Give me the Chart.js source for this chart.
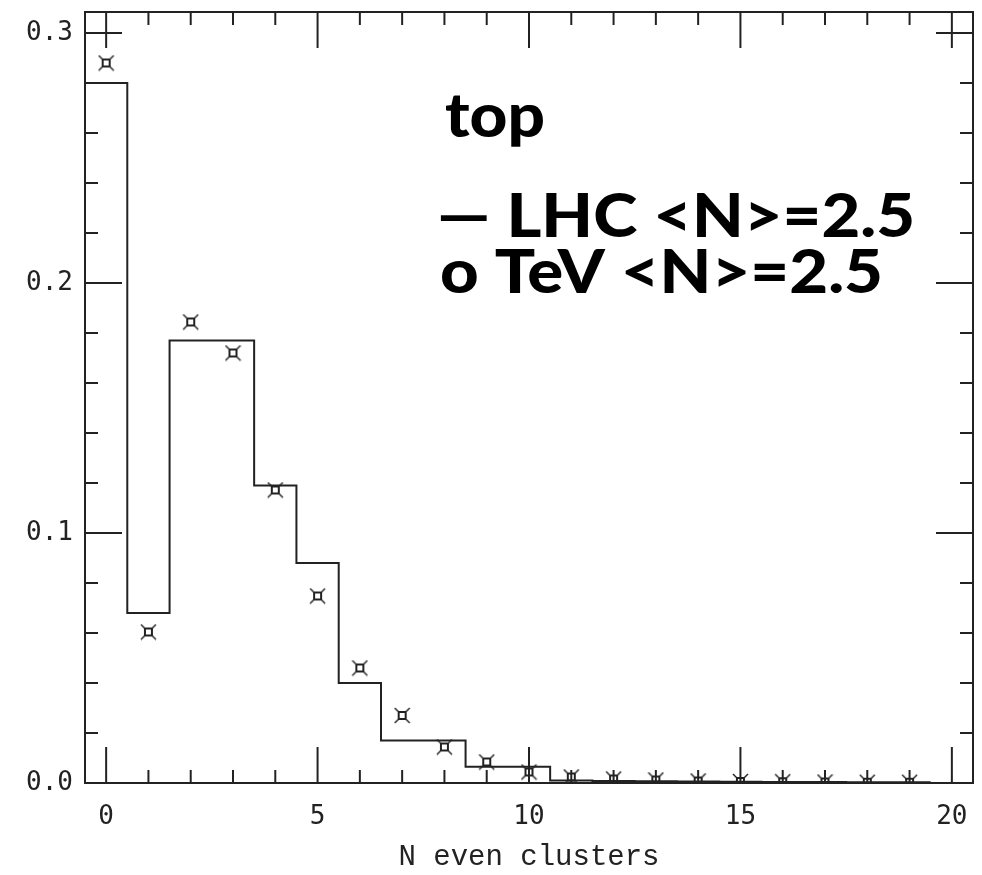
<!DOCTYPE html>
<html>
<head>
<meta charset="utf-8">
<script src="https://cdn.jsdelivr.net/npm/chart.js@4.4.1/dist/chart.umd.min.js"></script>
<style>
  html, body { margin: 0; padding: 0; background: #fff; }
  #wrap { width: 982px; height: 875px; }
</style>
</head>
<body>
<div id="wrap"><canvas id="chart" width="982" height="875"></canvas></div>
<script>
// bin centres (N even clusters)
const bins = [0, 1, 2, 3, 4, 5, 6, 7, 8, 9, 10, 11, 12, 13, 14, 15, 16, 17, 18, 19];
// LHC histogram (solid line)
const lhc = [0.280, 0.068, 0.177, 0.177, 0.119, 0.088, 0.040, 0.017, 0.017, 0.0065,
             0.0065, 0.0010, 0.0008, 0.0007, 0.0006, 0.0005, 0.0004, 0.0004, 0.0003, 0.0003];
// TeV points (markers)
const tev = [0.288, 0.0604, 0.1844, 0.172, 0.1172, 0.0748, 0.046, 0.027, 0.0144, 0.0084,
             0.0044, 0.0024, 0.0016, 0.0012, 0.0008, 0.0006, 0.0005, 0.0004, 0.0003, 0.0003];
const xTicks = [0, 5, 10, 15, 20];
const yTicks = [0.0, 0.1, 0.2, 0.3];
const labels = ['top', '\u2014 LHC <N>=2.5', 'o TeV <N>=2.5'];

const ink = '#222';

// histogram drawn as step line through the bin edges
const stepData = bins.map((b, i) => ({ x: b - 0.5, y: lhc[i] }));
stepData.push({ x: bins[bins.length - 1] + 0.5, y: lhc[lhc.length - 1] });

// marker: small open square with diagonal corner ticks
function makeMarker() {
  const c = document.createElement('canvas');
  c.width = 17; c.height = 17;
  const g = c.getContext('2d');
  g.strokeStyle = ink;
  g.lineWidth = 2;
  g.strokeRect(5, 5, 7, 7);
  g.lineWidth = 1.5;
  [[1, 1, 5, 5], [16, 1, 12, 5], [1, 16, 5, 12], [16, 16, 12, 12]].forEach(s => {
    g.beginPath(); g.moveTo(s[0], s[1]); g.lineTo(s[2], s[3]); g.stroke();
  });
  return c;
}
const marker = makeMarker();

// text stretched to the width it has in the original
function wideText(ctx, txt, x, y, w) {
  const m = ctx.measureText(txt).width;
  ctx.save();
  ctx.translate(x, y);
  ctx.scale(w / m, 1);
  ctx.fillText(txt, 0, 0);
  ctx.restore();
}

const frameTicks = {
  id: 'frameTicks',
  afterDatasetsDraw(chart) {
    const { ctx, chartArea: a, scales: { x, y } } = chart;
    ctx.save();
    ctx.strokeStyle = ink;
    ctx.lineWidth = 2;
    const seg = (x1, y1, x2, y2) => { ctx.beginPath(); ctx.moveTo(x1, y1); ctx.lineTo(x2, y2); ctx.stroke(); };
    ctx.strokeRect(a.left, a.top, a.right - a.left, a.bottom - a.top);
    for (let i = 0; i <= 20; i++) {
      const px = x.getPixelForValue(i);
      const len = i % 5 === 0 ? 36 : 13;
      seg(px, a.bottom, px, a.bottom - len);
      seg(px, a.top, px, a.top + len);
    }
    for (let k = 0; k <= 15; k++) {
      const py = y.getPixelForValue(k * 0.02);
      const len = k % 5 === 0 ? 37 : 13;
      seg(a.left, py, a.left + len, py);
      seg(a.right, py, a.right - len, py);
    }
    // annotation text
    ctx.fillStyle = '#000';
    ctx.textBaseline = 'alphabetic';
    ctx.font = '900 60px Lato';
    wideText(ctx, labels[0], 445, 137, 100);
    wideText(ctx, labels[1], 437, 237, 478);
    wideText(ctx, labels[2], 440, 293, 443);
    ctx.restore();
  }
};

new Chart(document.getElementById('chart'), {
  type: 'line',
  data: {
    datasets: [
      {
        label: 'LHC',
        data: stepData,
        stepped: 'before',
        borderColor: ink,
        borderWidth: 2,
        pointRadius: 0,
        fill: false
      },
      {
        label: 'TeV',
        data: bins.map((b, i) => ({ x: b, y: tev[i] })),
        showLine: false,
        pointStyle: marker,
        pointRadius: 8
      }
    ]
  },
  options: {
    responsive: false,
    animation: false,
    devicePixelRatio: 1,
    layout: { padding: { top: 12, right: 8, left: 0, bottom: 0 } },
    plugins: { legend: { display: false }, tooltip: { enabled: false } },
    scales: {
      x: {
        type: 'linear',
        min: -0.5,
        max: 20.5,
        afterFit: s => { s.height = 92; s.paddingLeft = 0; s.paddingRight = 0; },
        afterBuildTicks: s => { s.ticks = xTicks.map(v => ({ value: v })); },
        grid: { display: false, drawTicks: false },
        border: { display: false },
        ticks: {
          padding: 19,
          maxRotation: 0,
          color: ink,
          font: { family: 'DejaVu Sans Mono', size: 26 }
        },
        title: {
          display: true,
          text: 'N even clusters',
          color: ink,
          padding: { top: 0, bottom: 0 },
          font: { family: 'Liberation Mono', size: 29 }
        }
      },
      y: {
        min: 0,
        max: 0.3084,
        afterFit: s => { s.width = 85; s.paddingTop = 0; s.paddingBottom = 0; },
        afterBuildTicks: s => { s.ticks = yTicks.map(v => ({ value: v })); },
        grid: { display: false, drawTicks: false },
        border: { display: false },
        ticks: {
          padding: 12,
          color: ink,
          font: { family: 'DejaVu Sans Mono', size: 26 },
          callback: v => v.toFixed(1)
        }
      }
    }
  },
  plugins: [frameTicks]
});
</script>
</body>
</html>
